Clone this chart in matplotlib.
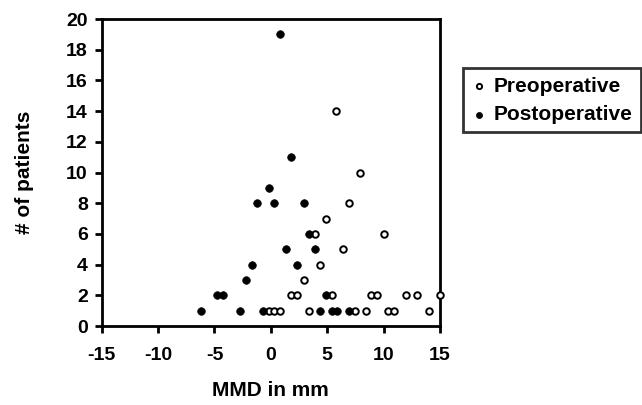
import numpy as np
import matplotlib.pyplot as plt

plt.rcParams['font.family'] = ['Liberation Sans', 'DejaVu Sans']
plt.rcParams['font.weight'] = 'bold'
plt.rcParams['axes.unicode_minus'] = False

# MMD (mm) vs number of patients
pre_mmd = [-0.2, 0.3, 0.8, 3.4, 7.5, 8.4, 10.4, 10.9, 14.0,
           1.8, 2.3, 5.4, 8.9, 9.4, 12.0, 13.0, 15.0,
           2.9, 4.4, 6.4, 3.9, 10.0, 4.9, 6.9, 7.9, 5.8]
pre_n = [1, 1, 1, 1, 1, 1, 1, 1, 1,
         2, 2, 2, 2, 2, 2, 2, 2,
         3, 4, 5, 6, 6, 7, 8, 10, 14]

post_mmd = [-6.2, -2.7, -0.7, 4.4, 5.4, 5.9, 6.9,
            -4.8, -4.2, 4.9,
            -2.2, -1.7, 2.3, 1.3, 3.9, 3.4,
            -1.2, 0.3, 2.9, -0.2, 1.8, 0.8]
post_n = [1, 1, 1, 1, 1, 1, 1,
          2, 2, 2,
          3, 4, 4, 5, 5, 6,
          8, 8, 8, 9, 11, 19]

fig = plt.figure(figsize=(6.42, 4.05), dpi=100)
ax = fig.add_axes([0.1584, 0.195, 0.527, 0.758])

ax.scatter(pre_mmd, pre_n, s=22, facecolor='white', edgecolor='black',
           linewidth=1.4, label='Preoperative', zorder=3, clip_on=False)
ax.scatter(post_mmd, post_n, s=30, facecolor='black', edgecolor='black',
           linewidth=0.5, label='Postoperative', zorder=3, clip_on=False)

ax.set_xlim(-15, 15)
ax.set_ylim(0, 20)
ax.set_xticks(np.arange(-15, 16, 5))
ax.set_yticks(np.arange(0, 21, 2))
ax.tick_params(direction='out', length=5, width=2, labelsize=14)
ax.tick_params(axis='x', pad=10)
ax.tick_params(axis='y', pad=5)
for lab in ax.get_xticklabels() + ax.get_yticklabels():
    lab.set_fontweight('bold')
for sp in ax.spines.values():
    sp.set_linewidth(2)

ax.set_xlabel('MMD in mm', fontsize=15, fontweight='bold')
ax.set_ylabel('# of patients', fontsize=15, fontweight='bold')
ax.xaxis.set_label_coords(0.5, -0.18)
ax.yaxis.set_label_coords(-0.2, 0.5)

leg = fig.legend(loc='upper left', bbox_to_anchor=(0.7207, 0.8314),
                 frameon=True, fancybox=False, edgecolor='black',
                 handletextpad=0.3, borderpad=0.4, labelspacing=0.45,
                 handlelength=0.8, markerscale=0.8, borderaxespad=0,
                 prop={'size': 15, 'weight': 'bold'})
leg.get_frame().set_linewidth(2)

fig.savefig('out.png', dpi=100)
